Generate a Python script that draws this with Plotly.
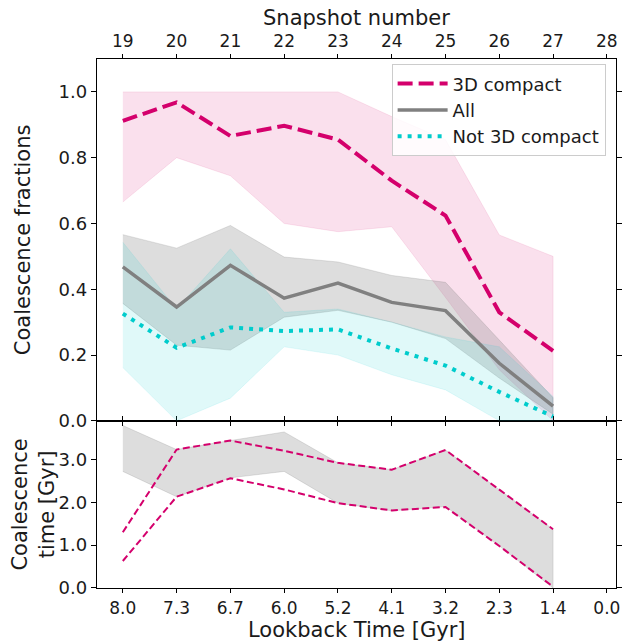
import plotly.graph_objects as go

# ---------------- data ----------------
snapshots = [19, 20, 21, 22, 23, 24, 25, 26, 27]
snap_ticks = [19, 20, 21, 22, 23, 24, 25, 26, 27, 28]
lookback_labels = ["8.0", "7.3", "6.7", "6.0", "5.2", "4.1", "3.2", "2.3", "1.4", "0.0"]

# top panel: coalescence fractions
compact_frac = [0.912, 0.968, 0.866, 0.897, 0.855, 0.73, 0.624, 0.33, 0.213]
compact_hi = [1.0, 1.0, 1.0, 1.0, 1.0, 0.925, 0.855, 0.565, 0.50]
compact_lo = [0.665, 0.80, 0.745, 0.60, 0.575, 0.59, 0.375, 0.155, 0.0]

all_frac = [0.468, 0.346, 0.473, 0.373, 0.419, 0.36, 0.335, 0.175, 0.045]
all_hi = [0.566, 0.525, 0.594, 0.498, 0.483, 0.442, 0.421, 0.245, 0.07]
all_lo = [0.357, 0.23, 0.215, 0.315, 0.336, 0.30, 0.25, 0.13, 0.02]

notc_frac = [0.326, 0.222, 0.284, 0.273, 0.278, 0.22, 0.168, 0.088, 0.013]
notc_hi = [0.543, 0.34, 0.523, 0.33, 0.34, 0.30, 0.255, 0.225, 0.074]
notc_lo = [0.162, 0.0, 0.069, 0.225, 0.20, 0.14, 0.094, 0.0, 0.0]

# bottom panel: coalescence time [Gyr]
time_all_hi = [3.79, 3.23, 3.44, 3.64, 2.92, 2.76, 3.22, 2.30, 1.37]
time_all_lo = [2.72, 2.13, 2.57, 2.72, 1.98, 1.80, 1.90, 0.98, 0.0]
time_compact_hi = [1.30, 3.23, 3.44, 3.20, 2.92, 2.76, 3.22, 2.30, 1.37]
time_compact_lo = [0.63, 2.13, 2.56, 2.30, 1.98, 1.81, 1.89, 0.98, 0.03]

# ---------------- styles ----------------
PINK = "#d4006c"
GRAY = "#808080"
CYAN = "#00cccc"
FONT = "DejaVu Sans"
TXT = "#1a1a1a"

fig = go.Figure()


def band(x, lo, hi, color, xa, ya):
    return go.Scatter(
        x=list(x) + list(x)[::-1],
        y=list(hi) + list(lo)[::-1],
        fill="toself", fillcolor=color, mode="lines",
        line=dict(width=0.8, color=color),
        hoverinfo="skip", showlegend=False, xaxis=xa, yaxis=ya,
    )

# top panel bands
fig.add_trace(band(snapshots, compact_lo, compact_hi, "rgba(214,0,110,0.12)", "x2", "y2"))
fig.add_trace(band(snapshots, all_lo, all_hi, "rgba(128,128,128,0.27)", "x2", "y2"))
fig.add_trace(band(snapshots, notc_lo, notc_hi, "rgba(0,206,209,0.12)", "x2", "y2"))

# top panel lines
fig.add_trace(go.Scatter(x=snapshots, y=compact_frac, mode="lines", name="3D compact",
                         line=dict(color=PINK, width=4, dash="15px,6px"), xaxis="x2", yaxis="y2"))
fig.add_trace(go.Scatter(x=snapshots, y=all_frac, mode="lines", name="All",
                         line=dict(color=GRAY, width=3.5), xaxis="x2", yaxis="y2"))
fig.add_trace(go.Scatter(x=snapshots, y=notc_frac, mode="lines", name="Not 3D compact",
                         line=dict(color=CYAN, width=4, dash="4px,6px"), xaxis="x2", yaxis="y2"))

# bottom panel
fig.add_trace(band(snapshots, time_all_lo, time_all_hi, "rgba(128,128,128,0.27)", "x", "y"))
fig.add_trace(go.Scatter(x=snapshots, y=time_compact_hi, mode="lines", showlegend=False,
                         line=dict(color=PINK, width=2, dash="7px,3.5px"), xaxis="x", yaxis="y"))
fig.add_trace(go.Scatter(x=snapshots, y=time_compact_lo, mode="lines", showlegend=False,
                         line=dict(color=PINK, width=2, dash="7px,3.5px"), xaxis="x", yaxis="y"))

axis_common = dict(showline=True, linecolor="black", linewidth=1.3, mirror="ticks",
                   ticks="outside", ticklen=5, tickwidth=1.1, tickcolor="black",
                   showgrid=False, zeroline=False, automargin=False,
                   tickfont=dict(family=FONT, size=18, color=TXT))
xaxis_common = {**axis_common, "ticklen": 4, "tickfont": dict(family=FONT, size=17, color=TXT)}
XR = [18.52, 28.17]
TF = dict(family=FONT, size=21, color=TXT)

# the page body adds an 8px offset, so the figure is 8px smaller than the window
fig.update_layout(
    width=622, height=634,
    margin=dict(l=89, r=14, t=51, b=54),
    paper_bgcolor="white", plot_bgcolor="white",
    font=dict(family=FONT, color=TXT),
    xaxis=dict(**xaxis_common, range=XR, tickmode="array", tickvals=snap_ticks,
               ticktext=lookback_labels, anchor="y"),
    yaxis=dict(**axis_common, domain=[0, 0.316], range=[0, 3.9], tickmode="array",
               tickvals=[0, 1, 2, 3], ticktext=["0.0", "1.0", "2.0", "3.0"], anchor="x",
               title=dict(text="Coalescence<br>time [Gyr]", font=TF, standoff=3)),
    xaxis2=dict(**xaxis_common, range=XR, tickmode="array", tickvals=snap_ticks,
                ticktext=[str(s) for s in snap_ticks], anchor="y2", side="top"),
    yaxis2=dict(**axis_common, domain=[0.316, 1], range=[0, 1.1], tickmode="array",
                tickvals=[0, 0.2, 0.4, 0.6, 0.8, 1.0],
                ticktext=["0.0", "0.2", "0.4", "0.6", "0.8", "1.0"], anchor="x2",
                title=dict(text="Coalescence fractions", font=TF, standoff=22)),
    legend=dict(x=0.98, y=0.99, xref="paper", yref="paper", xanchor="right", yanchor="top",
                bgcolor="rgba(255,255,255,0.85)", bordercolor="#cccccc", borderwidth=1,
                font=dict(family=FONT, size=18, color=TXT), itemwidth=50,
                tracegroupgap=0),
    annotations=[
        dict(text="Lookback Time [Gyr]", xref="paper", yref="paper", x=0.5, y=-0.0785,
             xanchor="center", yanchor="middle", showarrow=False, font=TF),
        dict(text="Snapshot number", xref="paper", yref="paper", x=0.5, y=1.0775,
             xanchor="center", yanchor="middle", showarrow=False, font=TF),
    ],
    showlegend=True,
)

fig.write_html("out.html")
